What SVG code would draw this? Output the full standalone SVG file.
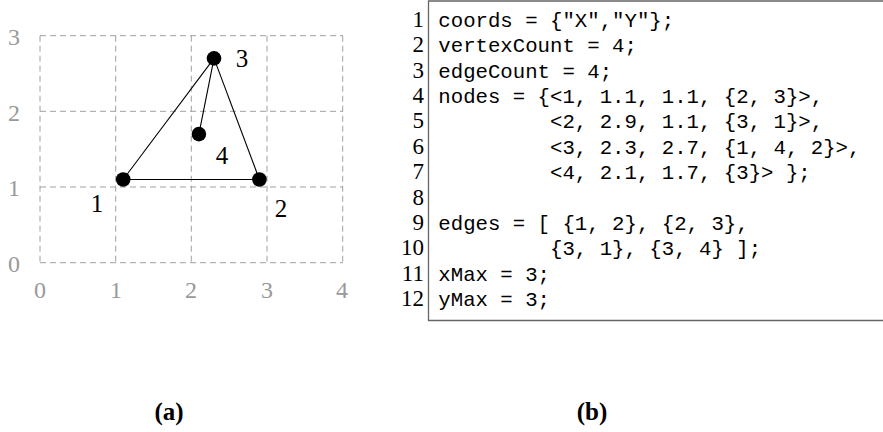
<svg xmlns="http://www.w3.org/2000/svg" width="883" height="432" viewBox="0 0 883 432">
<style>
.grid{stroke:#a0a0a0;stroke-width:1;stroke-dasharray:6 4;fill:none}
.axis{font-family:"Liberation Serif",serif;font-size:24px;fill:#999;text-anchor:middle}
.lbl{font-family:"Liberation Serif",serif;font-size:25px;fill:#000;text-anchor:middle}
.edge{stroke:#000;stroke-width:1.1;fill:none}
.node{fill:#000}
.code{font-family:"Liberation Mono",monospace;font-size:20.7px;fill:#000;white-space:pre}
.ln{font-family:"Liberation Serif",serif;font-size:23px;fill:#000;text-anchor:end}
.cap{font-family:"Liberation Serif",serif;font-size:25px;font-weight:bold;fill:#000;text-anchor:middle}
</style>
<rect width="883" height="432" fill="#fff"/>
<g id="grid">
<path class="grid" d="M40,35.7H343M40,111.3H343M40,187H343M40,262.7H343M40,35.7V262.7M115.7,35.7V262.7M191.3,35.7V262.7M267,35.7V262.7M342.7,35.7V262.7"/>
</g>
<g id="axes">
<text class="axis" x="14" y="45">3</text>
<text class="axis" x="14" y="121">2</text>
<text class="axis" x="14" y="196">1</text>
<text class="axis" x="14" y="272">0</text>
<text class="axis" x="40" y="297.5">0</text>
<text class="axis" x="116" y="297.5">1</text>
<text class="axis" x="191" y="297.5">2</text>
<text class="axis" x="267" y="297.5">3</text>
<text class="axis" x="342" y="297.5">4</text>
</g>
<g id="connectors">
<line class="edge" x1="123.2" y1="179.5" x2="259.4" y2="179.5"/>
<line class="edge" x1="259.4" y1="179.5" x2="214" y2="58.4"/>
<line class="edge" x1="214" y1="58.4" x2="123.2" y2="179.5"/>
<line class="edge" x1="214" y1="58.4" x2="198.9" y2="134.1"/>
</g>
<g id="node1"><circle class="node" cx="123.2" cy="179.5" r="7.3"/><text class="lbl" x="97" y="211.5">1</text></g>
<g id="node2"><circle class="node" cx="259.4" cy="179.5" r="7.3"/><text class="lbl" x="281" y="217">2</text></g>
<g id="node3"><circle class="node" cx="214" cy="58.4" r="7.3"/><text class="lbl" x="242" y="67">3</text></g>
<g id="node4"><circle class="node" cx="198.9" cy="134.1" r="7.3"/><text class="lbl" x="222" y="164">4</text></g>
<g id="codebox">
<path d="M884,1H428.5V320.5H884" fill="none" stroke="#666" stroke-width="1.3"/>
<text class="ln" x="424" y="26.7">1</text>
<text class="ln" x="424" y="52.1">2</text>
<text class="ln" x="424" y="77.5">3</text>
<text class="ln" x="424" y="102.9">4</text>
<text class="ln" x="424" y="128.3">5</text>
<text class="ln" x="424" y="153.7">6</text>
<text class="ln" x="424" y="179.1">7</text>
<text class="ln" x="424" y="204.5">8</text>
<text class="ln" x="424" y="229.9">9</text>
<text class="ln" x="424" y="255.3">10</text>
<text class="ln" x="424" y="280.7">11</text>
<text class="ln" x="424" y="306.1">12</text>
<text class="code" x="438.3" y="26.7">coords = {"X","Y"};</text>
<text class="code" x="438.3" y="52.1">vertexCount = 4;</text>
<text class="code" x="438.3" y="77.5">edgeCount = 4;</text>
<text class="code" x="438.3" y="102.9">nodes = {&lt;1, 1.1, 1.1, {2, 3}&gt;,</text>
<text class="code" x="438.3" y="128.3">         &lt;2, 2.9, 1.1, {3, 1}&gt;,</text>
<text class="code" x="438.3" y="153.7">         &lt;3, 2.3, 2.7, {1, 4, 2}&gt;,</text>
<text class="code" x="438.3" y="179.1">         &lt;4, 2.1, 1.7, {3}&gt; };</text>
<text class="code" x="438.3" y="229.9">edges = [ {1, 2}, {2, 3},</text>
<text class="code" x="438.3" y="255.3">         {3, 1}, {3, 4} ];</text>
<text class="code" x="438.3" y="280.7">xMax = 3;</text>
<text class="code" x="438.3" y="306.1">yMax = 3;</text>
</g>
<g id="captions">
<text class="cap" x="169" y="420">(a)</text>
<text class="cap" x="592" y="420">(b)</text>
</g>
</svg>
